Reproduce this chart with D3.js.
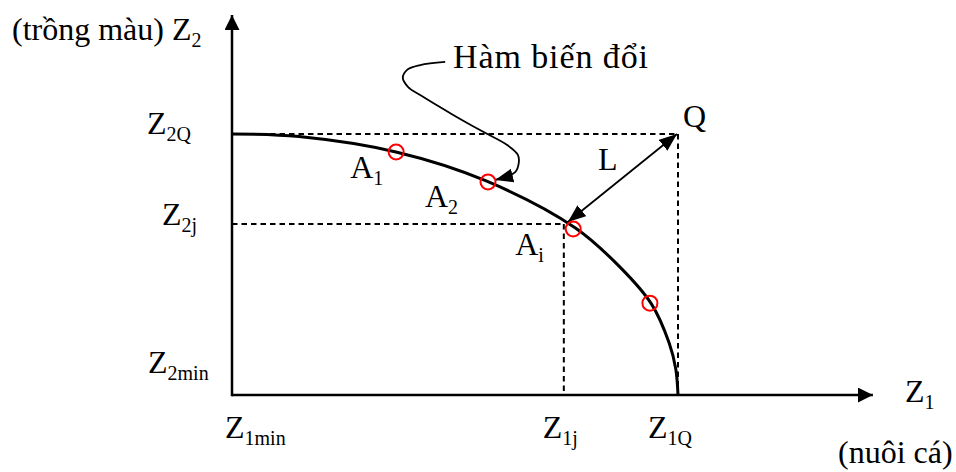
<!DOCTYPE html>
<html>
<head>
<meta charset="utf-8">
<script src="https://cdn.jsdelivr.net/npm/d3@7"></script>
<style>
  body { margin: 0; background: #fff; }
  svg { display: block; }
  text { font-family: "Liberation Serif", "Times New Roman", serif; fill: #000; }
</style>
</head>
<body>
<svg id="chart" width="956" height="472"></svg>
<script>
// Transformation frontier between fish farming (Z1) and crops (Z2), values in % of the ideal point Q
const frontierZ1 = [0, 15, 37, 57, 77, 87, 94, 98, 99.5, 100];
const frontierZ2 = [100, 99, 93, 82, 64, 49, 35, 20, 10, 0];

// Marked solutions on the frontier
const solutionZ1 = [36.8, 57.4, 76.5, 93.7];
const solutionZ2 = [93.1, 81.6, 63.6, 35.2];
const solutionNames = ["A", "A", "A", ""];
const solutionSubs = ["1", "2", "i", ""];

// Ideal point Q and chosen compromise j
const idealZ1 = 100, idealZ2 = 100;
const chosenZ1 = 74.4, chosenZ2 = 65.5;
const distanceEndZ1 = 75.3, distanceEndZ2 = 66.3;

// Axis tick labels (Z with subscripts)
const xTickValues = [0, chosenZ1, idealZ1];
const xTickSubs = ["1min", "1j", "1Q"];
const yTickValues = [0, chosenZ2, idealZ2];
const yTickSubs = ["2min", "2j", "2Q"];

// Leader curve from the "Hàm biến đổi" caption to the frontier
const leaderZ1 = [47.8, 42.2, 39.2, 38.3, 39.5, 42.2, 49.6, 55.6, 61.7, 64.1, 64.3, 63.5, 59.0];
const leaderZ2 = [127.6, 126.4, 124.5, 121.5, 118.0, 114.9, 107.3, 101.5, 95.8, 92.0, 88.9, 85.4, 82.4];

const axisMaxZ1 = 143.7, axisMaxZ2 = 145.6;

const svg = d3.select("#chart");
const x = d3.scaleLinear().domain([0, 100]).range([232, 678]);
const y = d3.scaleLinear().domain([0, 100]).range([395, 134]);

const defs = svg.append("defs");
function arrowMarker(id, len, half) {
  defs.append("marker")
    .attr("id", id)
    .attr("markerUnits", "userSpaceOnUse")
    .attr("markerWidth", len).attr("markerHeight", half * 2)
    .attr("refX", len).attr("refY", half)
    .attr("orient", "auto-start-reverse")
    .append("path")
    .attr("d", `M0,0 L${len},${half} L0,${half * 2} Z`)
    .attr("fill", "#000");
}
arrowMarker("axisHead", 15, 7.5);
arrowMarker("thinHead", 18, 7);

// Axes
svg.append("line")
  .attr("x1", x(0)).attr("y1", y(0))
  .attr("x2", x(axisMaxZ1)).attr("y2", y(0))
  .attr("stroke", "#000").attr("stroke-width", 2.5)
  .attr("marker-end", "url(#axisHead)");
svg.append("line")
  .attr("x1", x(0)).attr("y1", y(0) + 1.25)
  .attr("x2", x(0)).attr("y2", y(axisMaxZ2))
  .attr("stroke", "#000").attr("stroke-width", 2.5)
  .attr("marker-end", "url(#axisHead)");

// Dashed guides
const guides = [
  [[0, idealZ2], [idealZ1, idealZ2]],
  [[idealZ1, idealZ2], [idealZ1, 0]],
  [[0, chosenZ2], [chosenZ1, chosenZ2]],
  [[chosenZ1, chosenZ2], [chosenZ1, 0]]
];
svg.append("g").selectAll("line").data(guides).join("line")
  .attr("x1", d => x(d[0][0])).attr("y1", d => y(d[0][1]))
  .attr("x2", d => x(d[1][0])).attr("y2", d => y(d[1][1]))
  .attr("stroke", "#000").attr("stroke-width", 2)
  .attr("stroke-dasharray", "5.5,4");

// Frontier curve
const frontier = frontierZ1.map((v, i) => [v, frontierZ2[i]]);
svg.append("path")
  .datum(frontier)
  .attr("d", d3.line().x(d => x(d[0])).y(d => y(d[1])).curve(d3.curveCatmullRom.alpha(0.5)))
  .attr("fill", "none").attr("stroke", "#000").attr("stroke-width", 3);

// Distance L from Q to the chosen compromise
svg.append("line")
  .attr("x1", x(idealZ1) - 1).attr("y1", y(idealZ2))
  .attr("x2", x(distanceEndZ1)).attr("y2", y(distanceEndZ2))
  .attr("stroke", "#000").attr("stroke-width", 1.8)
  .attr("marker-start", "url(#thinHead)")
  .attr("marker-end", "url(#thinHead)");

// Leader curve
const leader = leaderZ1.map((v, i) => [v, leaderZ2[i]]);
svg.append("path")
  .datum(leader)
  .attr("d", d3.line().x(d => x(d[0])).y(d => y(d[1])).curve(d3.curveCatmullRom.alpha(0.5)))
  .attr("fill", "none").attr("stroke", "#000").attr("stroke-width", 1.8)
  .attr("marker-end", "url(#thinHead)");

// Solution markers
const solutions = solutionZ1.map((v, i) => ({ z1: v, z2: solutionZ2[i], name: solutionNames[i], sub: solutionSubs[i] }));
svg.append("g").selectAll("circle").data(solutions).join("circle")
  .attr("cx", d => x(d.z1)).attr("cy", d => y(d.z2)).attr("r", 7.5)
  .attr("fill", "none").attr("stroke", "#f00").attr("stroke-width", 2);

// Text helper: main text followed by a subscript
function label(px, py, main, sub, size) {
  const t = svg.append("text")
    .attr("x", px).attr("y", py)
    .attr("font-size", size || 32);
  t.append("tspan").text(main);
  if (sub) t.append("tspan").attr("font-size", 20).attr("dy", 7).text(sub);
  return t;
}

// Solution labels
const solutionLabelOffsets = [[-46, 26], [-63, 25], [-58, 26]];
solutions.filter(d => d.name).forEach((d, i) => {
  label(x(d.z1) + solutionLabelOffsets[i][0], y(d.z2) + solutionLabelOffsets[i][1], d.name, d.sub);
});

// Axis tick labels
const xTickDx = [-7, -21, -30];
xTickValues.forEach((v, i) => label(x(v) + xTickDx[i], y(0) + 43, "Z", xTickSubs[i]));
const yTickPos = [[148, -22], [162, 1], [147, 0]];
yTickValues.forEach((v, i) => label(yTickPos[i][0], y(v) + yTickPos[i][1], "Z", yTickSubs[i]));

// Axis titles
label(12, 40, "(trồng màu) Z", "2");
label(905, 402, "Z", "1");
label(838, 463, "(nuôi cá)");

// Point and distance names
label(x(idealZ1) + 5, y(idealZ2) - 7, "Q");
label(598, 170, "L");
label(453, 68, "Hàm biến đổi", null, 34).attr("textLength", 195).attr("lengthAdjust", "spacing");
</script>
</body>
</html>
